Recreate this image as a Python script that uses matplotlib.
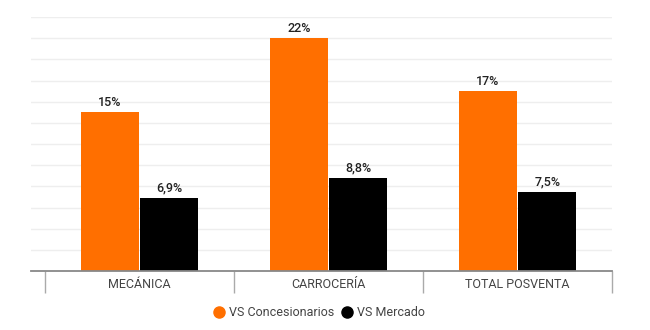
import numpy as np
import matplotlib
matplotlib.use("Agg")
import matplotlib.pyplot as plt
from matplotlib.lines import Line2D

plt.rcParams['font.family'] = ['Roboto', 'DejaVu Sans']

# data
categories = ["MECÁNICA", "CARROCERÍA", "TOTAL POSVENTA"]
series_names = ["VS Concesionarios", "VS Mercado"]
concesionarios = [15, 22, 17]
mercado = [6.9, 8.8, 7.5]
labels_conc = ["15%", "22%", "17%"]
labels_merc = ["6,9%", "8,8%", "7,5%"]

orange = "#ff6f00"
black = "#000000"

fig = plt.figure(figsize=(6.5, 3.3), dpi=100)
ax = fig.add_axes([31 / 650, 1 - 271 / 330, 581 / 650, 254 / 330])

x = np.arange(len(categories))
w = 0.305
off = 0.157

b1 = ax.bar(x - off, concesionarios, width=w, color=orange, zorder=3)
b2 = ax.bar(x + off, mercado, width=w, color=black, zorder=3)

# value labels above the bars
for bars, labs in [(b1, labels_conc), (b2, labels_merc)]:
    for rect, txt in zip(bars, labs):
        ax.annotate(txt, (rect.get_x() + rect.get_width() / 2, rect.get_height()),
                    xytext=(0, 2.5), textcoords="offset points", ha="center", va="bottom",
                    fontsize=9, fontweight="medium", color="#222222")

ax.set_xlim(2.5 - 581 / 189, 2.5)
ax.set_ylim(0, 24)
ax.set_yticks(np.arange(2, 25, 2))
ax.yaxis.grid(True, color="#eeeeee", linewidth=1, zorder=0)
ax.tick_params(axis="y", left=False, labelleft=False)

ax.set_xticks(x)
ax.set_xticklabels(categories, fontsize=9, color="#444444")
ax.tick_params(axis="x", length=0, pad=5)
ax.set_xticks([-0.5, 0.5, 1.5, 2.5], minor=True)
ax.tick_params(axis="x", which="minor", length=16, width=1, color="#aaaaaa", direction="out")

for s in ["top", "right", "left"]:
    ax.spines[s].set_visible(False)
ax.spines["bottom"].set_color("#888888")
ax.spines["bottom"].set_linewidth(1.3)
ax.spines["bottom"].set_zorder(4)

handles = [Line2D([], [], marker="o", linestyle="", markersize=8, color=orange),
           Line2D([], [], marker="o", linestyle="", markersize=8, color=black)]
fig.legend(handles, series_names, loc="center", bbox_to_anchor=(0.49, 1 - 313 / 330),
           ncol=2, frameon=False, fontsize=9, handletextpad=0.3, columnspacing=0.5,
           handlelength=1.0, labelcolor="#444444")

fig.savefig("out.png", dpi=100, facecolor="white")
